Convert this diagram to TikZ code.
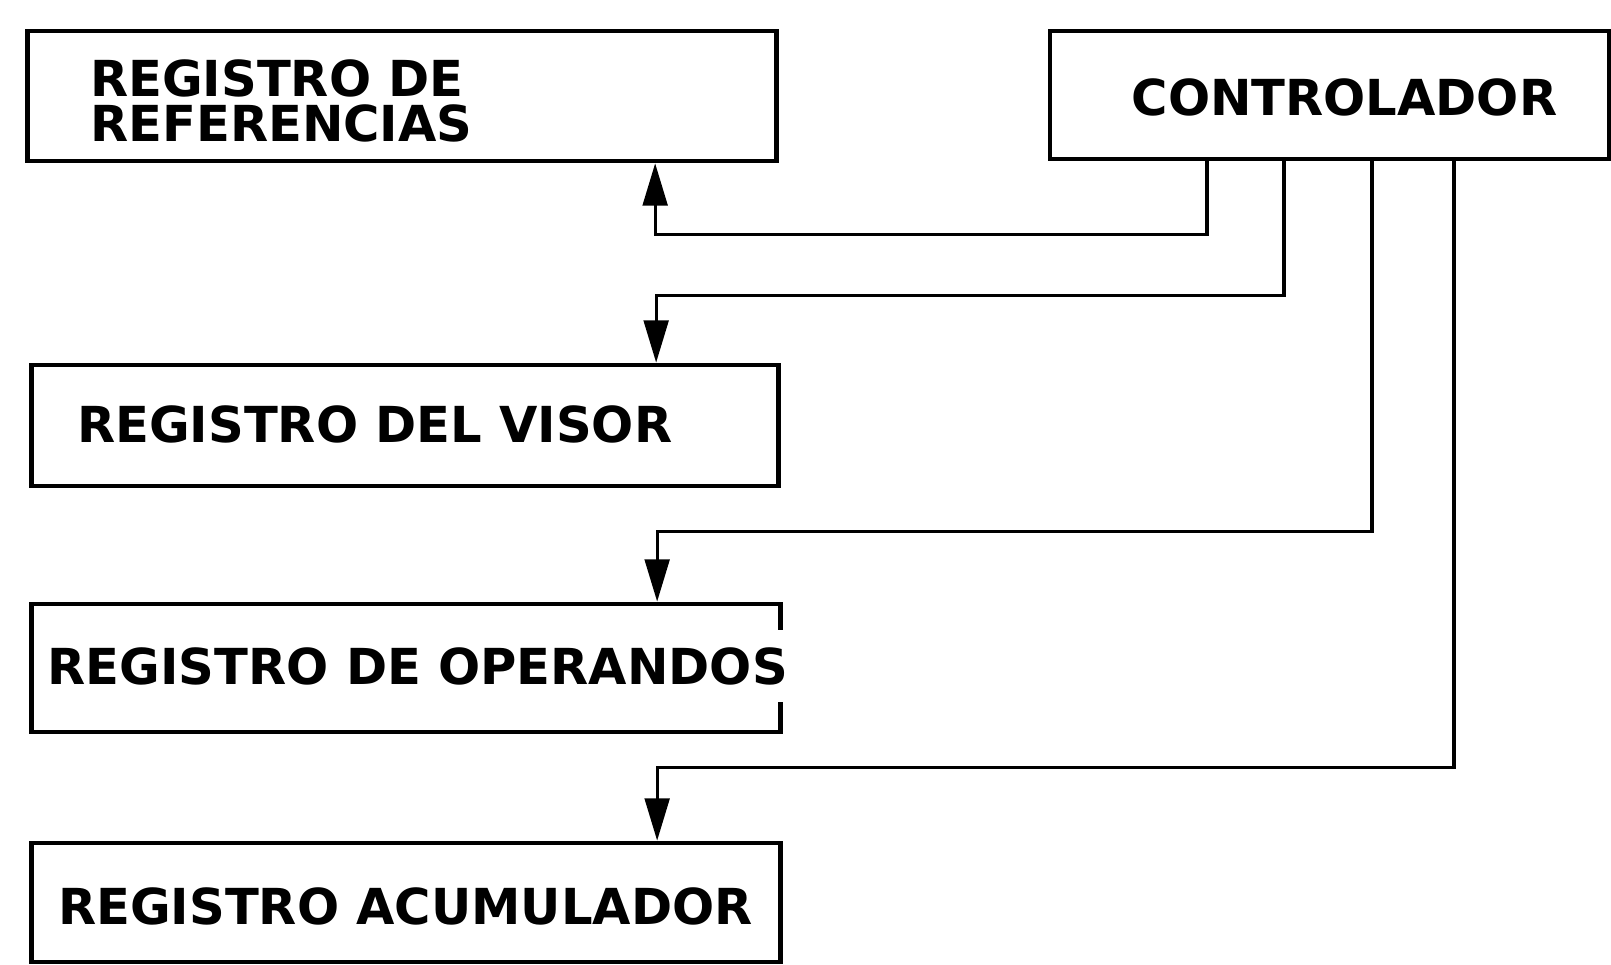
\documentclass[tikz,border=0pt]{standalone}
\usepackage{fontspec}
\setmainfont{DejaVu Sans}
\usetikzlibrary{arrows.meta}

\begin{document}
\begin{tikzpicture}[x=0.01cm, y=-0.01cm,
    regbox/.style={rectangle, draw, line width=1.3pt, inner sep=0pt},
    reglabel/.style={anchor=west, inner sep=0pt, align=left,
      font=\fontsize{14.1}{13}\selectfont\bfseries},
    wire/.style={line width=0.9pt, -{Triangle[length=12pt, width=7pt]}}]
  \useasboundingbox (0,0) rectangle (1611,965);
  \node[regbox, minimum width=7.48cm, minimum height=1.30cm] (ref) at (402,96) {};
  \node[regbox, minimum width=5.59cm, minimum height=1.28cm] (ctrl) at (1329.5,95) {};
  \node[regbox, minimum width=7.46cm, minimum height=1.21cm] (visor) at (405,425.5) {};
  \node[regbox, minimum width=7.48cm, minimum height=1.28cm] (oper) at (406,668) {};
  \node[regbox, minimum width=7.48cm, minimum height=1.19cm] (acum) at (406,902.5) {};
  \node[reglabel] (refl) at ([xshift=0.64cm, yshift=-0.05cm]ref.west) {REGISTRO DE\\REFERENCIAS};
  \node[reglabel, anchor=center] (ctrll) at ([xshift=0.15cm, yshift=-0.02cm]ctrl.center) {CONTROLADOR};
  \node[reglabel] (visorl) at ([xshift=0.47cm, yshift=0.015cm]visor.west) {REGISTRO DEL VISOR};
  \node[reglabel, fill=white, inner xsep=1pt, inner ysep=5pt] (operl) at ([xshift=0.14cm, yshift=0.02cm]oper.west) {REGISTRO DE OPERANDOS};
  \node[reglabel] (acuml) at ([xshift=0.28cm, yshift=-0.035cm]acum.west) {REGISTRO ACUMULADOR};
  \draw[wire] ([xshift=-1.225cm]ctrl.south) -- ++(0,73) -| ([xshift=2.53cm]ref.south);
  \draw[wire] ([xshift=-0.455cm]ctrl.south) -- ++(0,134) -| ([xshift=2.51cm]visor.north);
  \draw[wire] ([xshift=0.425cm]ctrl.south) -- ++(0,370) -| ([xshift=2.51cm]oper.north);
  \draw[wire] ([xshift=1.245cm]ctrl.south) -- ++(0,606) -| ([xshift=2.51cm]acum.north);
\end{tikzpicture}
\end{document}
